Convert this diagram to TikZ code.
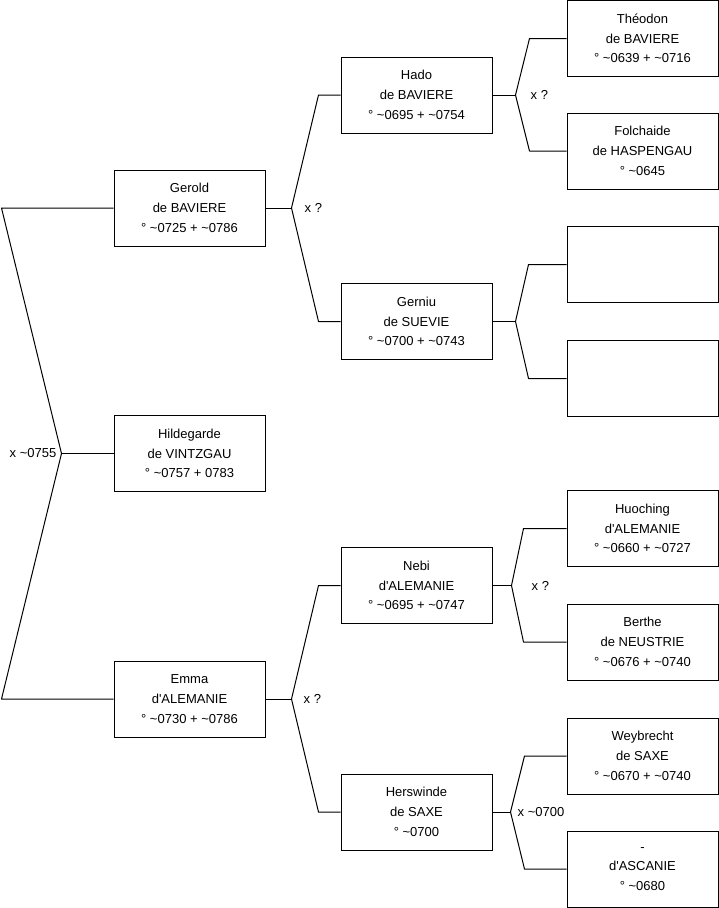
\documentclass[tikz,border=0pt]{standalone}
\usepackage{fontspec}
\newfontfamily\treefont{Liberation Sans}
\usetikzlibrary{positioning}
\tikzset{every node/.style={font=\treefont\fontsize{13}{19.7}\selectfont},
 person/.style={draw,line width=1pt,minimum width=151pt,minimum height=76pt,
 inner sep=0pt,align=center},link/.style={line width=1pt,line join=round},
 union/.style={inner sep=0pt}}
\begin{document}
\begin{tikzpicture}[x=1pt,y=-1pt]
\useasboundingbox (0,0) rectangle (719,908);
% persons
\foreach \n/\x/\y/\txt in {
 gerold/189.5/208/{Gerold\\de BAVIERE\\° \textasciitilde0725 + \textasciitilde0786},
 hild/189.5/453.5/{Hildegarde\\de VINTZGAU\\° \textasciitilde0757 + 0783},
 emma/189.5/699/{Emma\\d'ALEMANIE\\° \textasciitilde0730 + \textasciitilde0786},
 hado/416.5/95/{Hado\\de BAVIERE\\° \textasciitilde0695 + \textasciitilde0754},
 gerniu/416.5/321.5/{Gerniu\\de SUEVIE\\° \textasciitilde0700 + \textasciitilde0743},
 nebi/416.5/585.5/{Nebi\\d'ALEMANIE\\° \textasciitilde0695 + \textasciitilde0747},
 hersw/416.5/812/{Herswinde\\de SAXE\\° \textasciitilde0700},
 theo/642.5/38.5/{Théodon\\de BAVIERE\\° \textasciitilde0639 + \textasciitilde0716},
 folch/642.5/151/{Folchaide\\de HASPENGAU\\° \textasciitilde0645},
 e1/642.5/264.5/{},
 e2/642.5/378.5/{},
 huo/642.5/528.5/{Huoching\\d'ALEMANIE\\° \textasciitilde0660 + \textasciitilde0727},
 berthe/642.5/642/{Berthe\\de NEUSTRIE\\° \textasciitilde0676 + \textasciitilde0740},
 weyb/642.5/756/{Weybrecht\\de SAXE\\° \textasciitilde0670 + \textasciitilde0740},
 asc/642.5/869/{-\\d'ASCANIE\\° \textasciitilde0680}}
 {\node[person] (\n) at (\x,\y) {\txt};}
% root couple
\coordinate (m0) at ([xshift=-52pt]hild.west);
\draw[link] (gerold.west) -- ++(-112,0) -- (m0) -- ([xshift=-112pt]emma.west) -- (emma.west);
\draw[link] (m0) -- (hild.west);
\node[union,anchor=east] (l0) at ([xshift=-5pt]m0) {x \textasciitilde0755};
% parents of each person
\foreach \p/\a/\b/\d/\c in {gerold/hado/gerniu/26/22,emma/nebi/hersw/26/22,
 hado/theo/folch/23/37,gerniu/e1/e2/23/38,nebi/huo/berthe/19/43,hersw/weyb/asc/18/42}
 {\coordinate (m\p) at ([xshift=\d pt]\p.east);
 \draw[link] (\p.east) -- (m\p);
 \draw[link] (\a.west) -- ++(-\c,0) -- (m\p) -- ([xshift=-\c pt]\b.west) -- (\b.west);}
\foreach \p/\l/\lab in {gerold/13/x ?,emma/12/x ?,hado/15/x ?,nebi/20/x ?,
 hersw/7/x \textasciitilde0700}
 {\node[union,anchor=west] (l\p) at ([xshift=\l pt]m\p) {\lab};}
\end{tikzpicture}
\end{document}
